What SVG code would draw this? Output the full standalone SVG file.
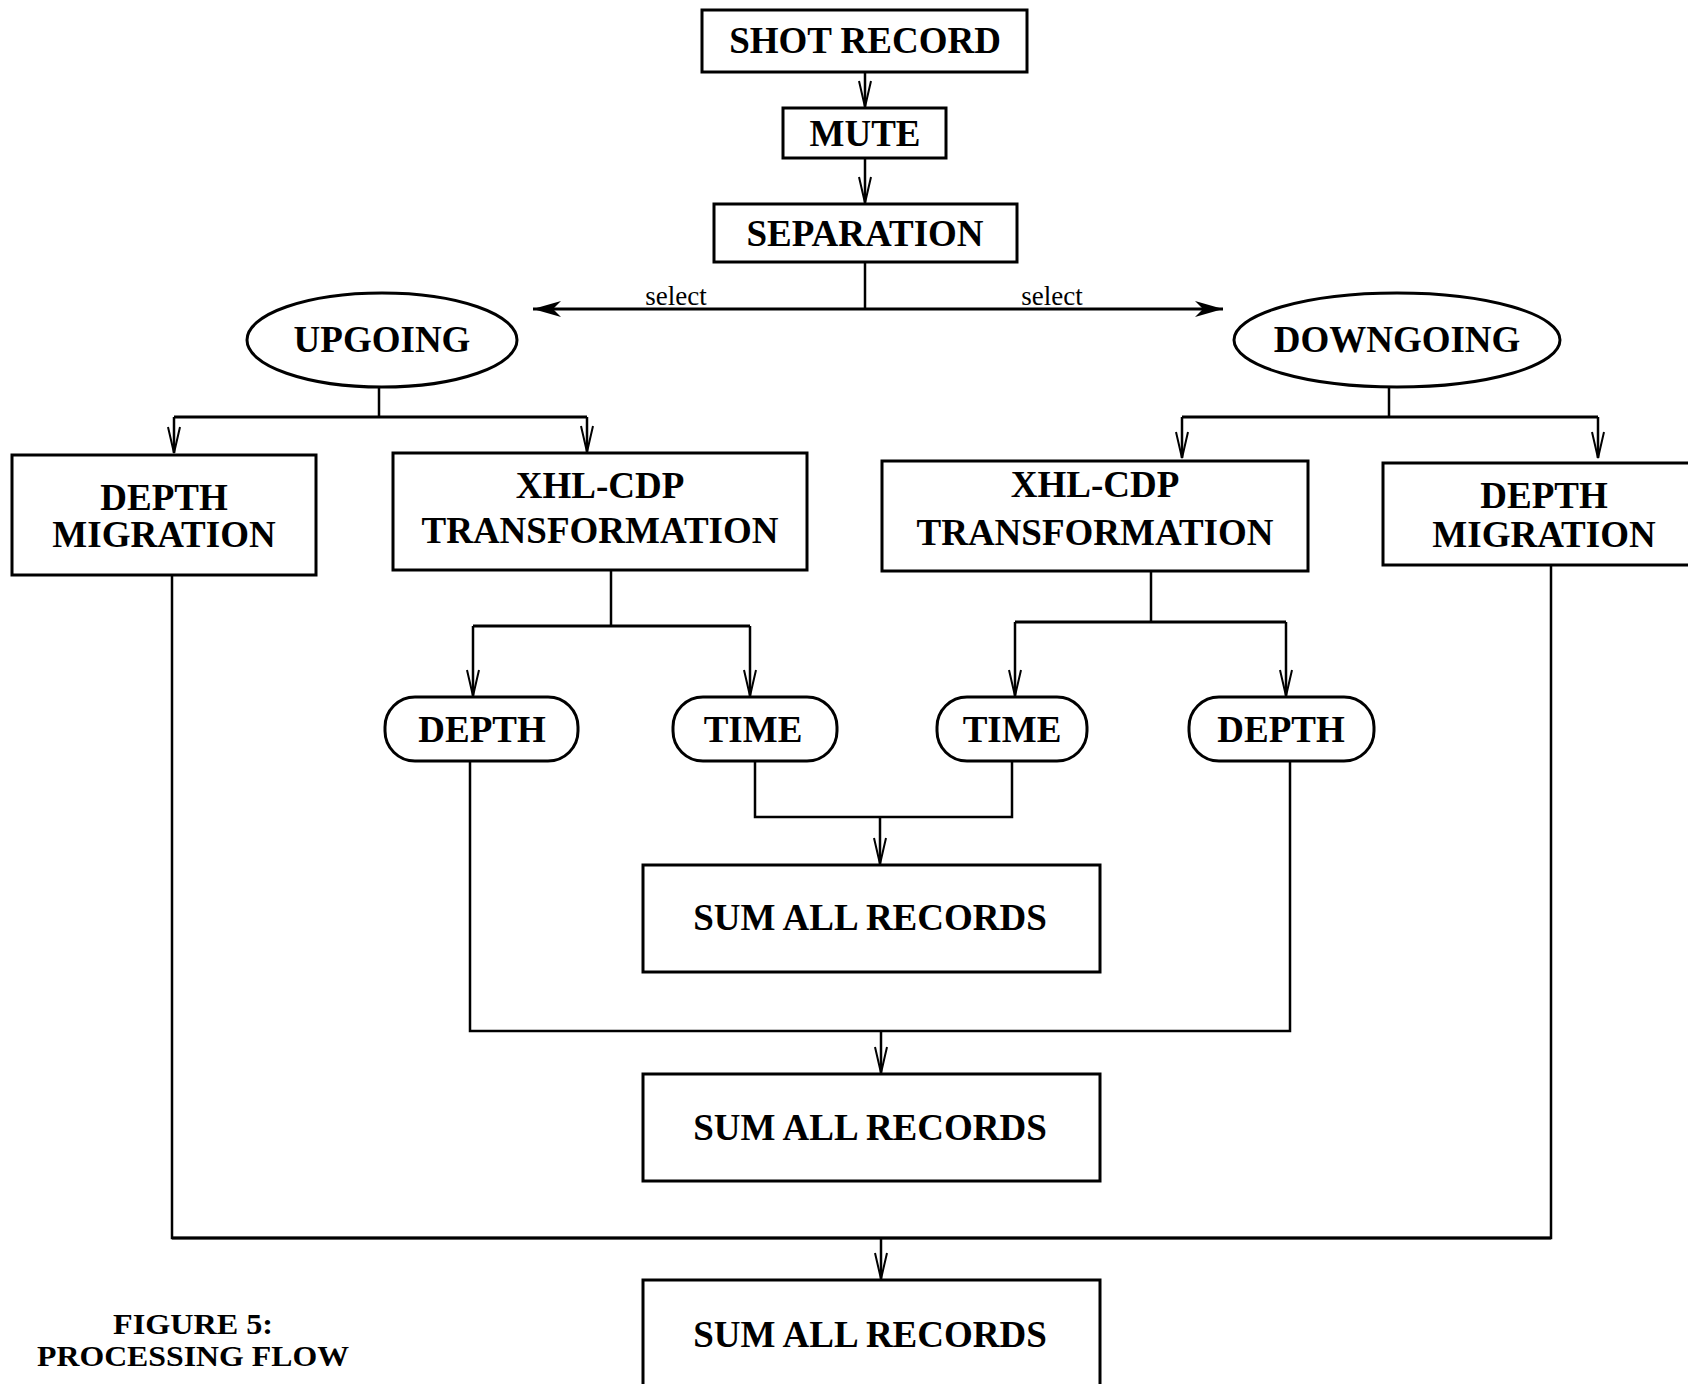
<svg xmlns="http://www.w3.org/2000/svg" width="1688" height="1384" viewBox="0 0 1688 1384">
<style>
.box{fill:#fff;stroke:#000;stroke-width:3}
.ln{fill:none;stroke:#000;stroke-width:2.5}
.bar{fill:none;stroke:#000;stroke-width:3}
.t{font-family:"Liberation Serif","Times New Roman",serif;font-weight:bold;font-size:37px;text-anchor:middle;fill:#000}
.s{font-family:"Liberation Serif","Times New Roman",serif;font-size:27px;text-anchor:middle;fill:#000}
.cap{font-family:"Liberation Serif","Times New Roman",serif;font-weight:bold;font-size:29px;text-anchor:middle;fill:#000}
</style>
<defs>
<marker id="open" viewBox="-30 -10 32 20" refX="0" refY="0" markerWidth="32" markerHeight="20" markerUnits="userSpaceOnUse" orient="auto">
<path d="M -26 -6 L 0 0 L -26 6" fill="none" stroke="#000" stroke-width="2"/>
</marker>
<marker id="solid" viewBox="-30 -10 32 20" refX="0" refY="0" markerWidth="32" markerHeight="20" markerUnits="userSpaceOnUse" orient="auto">
<path d="M 0 0 L -28 -8 L -20 0 L -28 8 Z" fill="#000"/>
</marker>
</defs>
<rect width="1688" height="1384" fill="#fff"/>
<g id="connectors">
<line class="ln" x1="865" y1="72" x2="865" y2="107" marker-end="url(#open)"/>
<line class="ln" x1="865" y1="158" x2="865" y2="203" marker-end="url(#open)"/>
<line class="ln" x1="865" y1="262" x2="865" y2="309"/>
<line class="bar" x1="865" y1="309" x2="533" y2="309" marker-end="url(#solid)"/>
<line class="bar" x1="865" y1="309" x2="1223" y2="309" marker-end="url(#solid)"/>
<text class="s" x="676" y="305">select</text>
<text class="s" x="1052" y="305">select</text>
<line class="ln" x1="379" y1="387" x2="379" y2="417"/>
<line class="bar" x1="174" y1="417" x2="587" y2="417"/>
<line class="ln" x1="174" y1="417" x2="174" y2="453" marker-end="url(#open)"/>
<line class="ln" x1="587" y1="417" x2="587" y2="452" marker-end="url(#open)"/>
<line class="ln" x1="1389" y1="387" x2="1389" y2="417"/>
<line class="bar" x1="1182" y1="417" x2="1598" y2="417"/>
<line class="ln" x1="1182" y1="417" x2="1182" y2="458" marker-end="url(#open)"/>
<line class="ln" x1="1598" y1="417" x2="1598" y2="458" marker-end="url(#open)"/>
<line class="ln" x1="611" y1="570" x2="611" y2="626"/>
<line class="bar" x1="473" y1="626" x2="750" y2="626"/>
<line class="ln" x1="473" y1="626" x2="473" y2="696" marker-end="url(#open)"/>
<line class="ln" x1="750" y1="626" x2="750" y2="696" marker-end="url(#open)"/>
<line class="ln" x1="1151" y1="571" x2="1151" y2="622"/>
<line class="bar" x1="1015" y1="622" x2="1286" y2="622"/>
<line class="ln" x1="1015" y1="622" x2="1015" y2="696" marker-end="url(#open)"/>
<line class="ln" x1="1286" y1="622" x2="1286" y2="696" marker-end="url(#open)"/>
<polyline class="ln" points="755,761 755,817 1012,817 1012,761"/>
<line class="ln" x1="880" y1="817" x2="880" y2="864" marker-end="url(#open)"/>
<polyline class="ln" points="470,761 470,1031 1290,1031 1290,761"/>
<line class="ln" x1="881" y1="1031" x2="881" y2="1073" marker-end="url(#open)"/>
<polyline class="ln" points="172,575 172,1238 1551,1238 1551,565"/>
<line class="bar" x1="172" y1="1238" x2="1551" y2="1238"/>
<line class="ln" x1="881" y1="1238" x2="881" y2="1279" marker-end="url(#open)"/>
</g>
<g id="shot-record"><rect class="box" x="702" y="10" width="325" height="62"/><text class="t" x="865" y="53">SHOT RECORD</text></g>
<g id="mute"><rect class="box" x="783" y="108" width="163" height="50"/><text class="t" x="865" y="146">MUTE</text></g>
<g id="separation"><rect class="box" x="714" y="204" width="303" height="58"/><text class="t" x="865" y="246">SEPARATION</text></g>
<g id="upgoing"><ellipse class="box" cx="382" cy="340" rx="135" ry="47"/><text class="t" x="382" y="352">UPGOING</text></g>
<g id="downgoing"><ellipse class="box" cx="1397" cy="340" rx="163" ry="47"/><text class="t" x="1397" y="352">DOWNGOING</text></g>
<g id="depth-migration-up"><rect class="box" x="12" y="455" width="304" height="120"/><text class="t" x="164" y="510">DEPTH</text><text class="t" x="164" y="547">MIGRATION</text></g>
<g id="xhl-cdp-up"><rect class="box" x="393" y="453" width="414" height="117"/><text class="t" x="600" y="498">XHL-CDP</text><text class="t" x="600" y="543">TRANSFORMATION</text></g>
<g id="xhl-cdp-down"><rect class="box" x="882" y="461" width="426" height="110"/><text class="t" x="1095" y="497">XHL-CDP</text><text class="t" x="1095" y="545">TRANSFORMATION</text></g>
<g id="depth-migration-down"><rect class="box" x="1383" y="463" width="330" height="102"/><text class="t" x="1544" y="508">DEPTH</text><text class="t" x="1544" y="547">MIGRATION</text></g>
<g id="depth-up"><rect class="box" x="385" y="697" width="193" height="64" rx="30" ry="30"/><text class="t" x="482" y="742">DEPTH</text></g>
<g id="time-up"><rect class="box" x="673" y="697" width="164" height="64" rx="30" ry="30"/><text class="t" x="753" y="742">TIME</text></g>
<g id="time-down"><rect class="box" x="937" y="697" width="150" height="64" rx="30" ry="30"/><text class="t" x="1012" y="742">TIME</text></g>
<g id="depth-down"><rect class="box" x="1189" y="697" width="185" height="64" rx="30" ry="30"/><text class="t" x="1281" y="742">DEPTH</text></g>
<g id="sum-1"><rect class="box" x="643" y="865" width="457" height="107"/><text class="t" x="870" y="930">SUM ALL RECORDS</text></g>
<g id="sum-2"><rect class="box" x="643" y="1074" width="457" height="107"/><text class="t" x="870" y="1140">SUM ALL RECORDS</text></g>
<g id="sum-3"><rect class="box" x="643" y="1280" width="457" height="140"/><text class="t" x="870" y="1347">SUM ALL RECORDS</text></g>
<g id="caption"><text class="cap" x="193" y="1334" textLength="160" lengthAdjust="spacingAndGlyphs">FIGURE 5:</text><text class="cap" x="193" y="1366" textLength="312" lengthAdjust="spacingAndGlyphs">PROCESSING FLOW</text></g>
</svg>
